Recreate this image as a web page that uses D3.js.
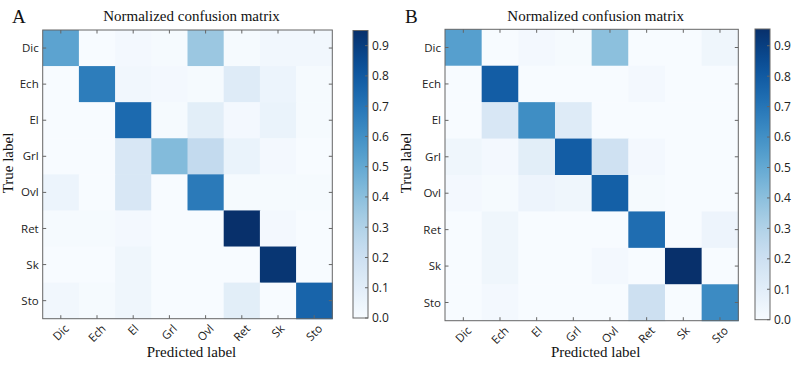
<!DOCTYPE html>
<html>
<head>
<meta charset="utf-8">
<script src="https://cdn.jsdelivr.net/npm/d3@7"></script>
<style>
  body { margin: 0; background: #fff; }
  svg { display: block; }
</style>
</head>
<body>
<div id="container"></div>
<script>
let w = 800;
let h = 366;

// class names (rows = true label, cols = predicted label)
let classes = ["Dic", "Ech", "El", "Grl", "Ovl", "Ret", "Sk", "Sto"];

// panel A normalized confusion matrix
let matrixA = [
  [0.52, 0.00, 0.02, 0.01, 0.36, 0.01, 0.03, 0.03],
  [0.00, 0.67, 0.03, 0.02, 0.01, 0.12, 0.05, 0.01],
  [0.00, 0.00, 0.74, 0.01, 0.10, 0.02, 0.06, 0.01],
  [0.00, 0.00, 0.15, 0.42, 0.24, 0.06, 0.02, 0.00],
  [0.05, 0.00, 0.15, 0.00, 0.68, 0.01, 0.01, 0.01],
  [0.01, 0.01, 0.02, 0.00, 0.00, 0.95, 0.02, 0.00],
  [0.00, 0.00, 0.04, 0.00, 0.00, 0.00, 0.93, 0.00],
  [0.03, 0.01, 0.04, 0.00, 0.00, 0.10, 0.00, 0.76]
];

// panel B normalized confusion matrix
let matrixB = [
  [0.54, 0.00, 0.02, 0.01, 0.40, 0.00, 0.00, 0.04],
  [0.00, 0.79, 0.00, 0.00, 0.00, 0.02, 0.00, 0.00],
  [0.00, 0.15, 0.61, 0.12, 0.00, 0.00, 0.00, 0.00],
  [0.04, 0.02, 0.10, 0.79, 0.19, 0.02, 0.00, 0.00],
  [0.02, 0.01, 0.05, 0.04, 0.78, 0.01, 0.00, 0.00],
  [0.00, 0.04, 0.00, 0.00, 0.00, 0.73, 0.00, 0.05],
  [0.00, 0.04, 0.00, 0.00, 0.02, 0.00, 0.955, 0.00],
  [0.00, 0.02, 0.00, 0.00, 0.00, 0.20, 0.00, 0.62]
];

let colorbarTicks = [0.0, 0.1, 0.2, 0.3, 0.4, 0.5, 0.6, 0.7, 0.8, 0.9];

let titleText = "Normalized confusion matrix";
let xLabelText = "Predicted label";
let yLabelText = "True label";

let serif = "'Liberation Serif', 'Times New Roman', serif";
let sans = "'Open Sans', 'Noto Sans', sans-serif";
let frameColor = "#666";

let viz = d3.select("#container").append("svg")
  .attr("width", w)
  .attr("height", h);

let defs = viz.append("defs");

function drawPanel(letter, matrix, box, cbar, ylabX, letterX) {
  let vmax = d3.max(matrix, function(r) { return d3.max(r); });
  let color = d3.scaleSequential(d3.interpolateBlues).domain([0, vmax]);

  let xScale = d3.scaleBand().domain(classes).range([box.left, box.right]);
  let yScale = d3.scaleBand().domain(classes).range([box.top, box.bottom]);

  let cells = [];
  matrix.forEach(function(row, i) {
    row.forEach(function(v, j) {
      cells.push({ t: classes[i], p: classes[j], v: v });
    });
  });

  let g = viz.append("g");

  g.selectAll(".cell").data(cells).enter().append("rect")
    .attr("class", "cell")
    .attr("x", function(d) { return xScale(d.p); })
    .attr("y", function(d) { return yScale(d.t); })
    .attr("width", xScale.bandwidth() + 0.5)
    .attr("height", yScale.bandwidth() + 0.5)
    .attr("fill", function(d) { return color(d.v); });

  // frame
  g.append("rect")
    .attr("x", box.left).attr("y", box.top)
    .attr("width", box.right - box.left).attr("height", box.bottom - box.top)
    .attr("fill", "none").attr("stroke", frameColor).attr("stroke-width", 1);

  // inward ticks on all four sides
  let half = xScale.bandwidth() / 2;
  let tl = 3.5;
  classes.forEach(function(c) {
    let x = xScale(c) + half;
    let y = yScale(c) + yScale.bandwidth() / 2;
    g.append("line").attr("x1", x).attr("x2", x).attr("y1", box.top).attr("y2", box.top + tl).attr("stroke", frameColor);
    g.append("line").attr("x1", x).attr("x2", x).attr("y1", box.bottom).attr("y2", box.bottom - tl).attr("stroke", frameColor);
    g.append("line").attr("y1", y).attr("y2", y).attr("x1", box.left).attr("x2", box.left + tl).attr("stroke", frameColor);
    g.append("line").attr("y1", y).attr("y2", y).attr("x1", box.right).attr("x2", box.right - tl).attr("stroke", frameColor);
  });

  // y tick labels
  g.selectAll(".ylab").data(classes).enter().append("text")
    .attr("class", "ylab")
    .attr("x", box.left - 4)
    .attr("y", function(d) { return yScale(d) + yScale.bandwidth() / 2; })
    .attr("dy", "0.35em")
    .attr("text-anchor", "end")
    .style("font-family", sans).style("font-size", "11.5px").attr("fill", "#222")
    .text(function(d) { return d; });

  // x tick labels, rotated 45 and centred under the tick
  g.selectAll(".xlab").data(classes).enter().append("text")
    .attr("class", "xlab")
    .attr("text-anchor", "middle")
    .attr("dy", "0.35em")
    .style("font-family", sans).style("font-size", "11.5px").attr("fill", "#222")
    .text(function(d) { return d; })
    .attr("transform", function(d) {
      let len = this.getComputedTextLength();
      let halfH = (len + 11) * Math.SQRT1_2 / 2;
      return "translate(" + (xScale(d) + half) + "," + (box.bottom + 4 + halfH) + ") rotate(-45)";
    });

  let cx = (box.left + box.right) / 2 + 4;

  g.append("text")
    .attr("x", cx).attr("y", 21)
    .attr("text-anchor", "middle")
    .style("font-family", serif).style("font-size", "15px").attr("fill", "#111")
    .text(titleText);

  g.append("text")
    .attr("x", cx).attr("y", 357)
    .attr("text-anchor", "middle")
    .style("font-family", serif).style("font-size", "15px").attr("fill", "#111")
    .text(xLabelText);

  g.append("text")
    .attr("transform", "translate(" + ylabX + "," + 163 + ") rotate(-90)")
    .attr("text-anchor", "middle")
    .style("font-family", serif).style("font-size", "15px").attr("fill", "#111")
    .text(yLabelText);

  g.append("text")
    .attr("x", letterX).attr("y", 23)
    .style("font-family", serif).style("font-size", "19px").attr("fill", "#111")
    .text(letter);

  // colorbar
  let gradId = "grad" + letter;
  let grad = defs.append("linearGradient").attr("id", gradId)
    .attr("x1", "0").attr("y1", "1").attr("x2", "0").attr("y2", "0");
  d3.range(0, 1.0001, 0.05).forEach(function(t) {
    grad.append("stop").attr("offset", t).attr("stop-color", color(t * vmax));
  });

  let cScale = d3.scaleLinear().domain([0, vmax]).range([cbar.bottom, cbar.top]);

  g.append("rect")
    .attr("x", cbar.left).attr("y", cbar.top)
    .attr("width", cbar.right - cbar.left).attr("height", cbar.bottom - cbar.top)
    .attr("fill", "url(#" + gradId + ")")
    .attr("stroke", frameColor).attr("stroke-width", 1);

  let cAxis = d3.axisRight(cScale).tickValues(colorbarTicks).tickFormat(d3.format(".1f")).tickSize(0).tickPadding(4);
  let cAxisGroup = g.append("g")
    .attr("transform", "translate(" + cbar.right + ",0)")
    .call(cAxis);
  cAxisGroup.select(".domain").remove();
  cAxisGroup.selectAll("text")
    .style("font-family", sans).style("font-size", "12px").attr("fill", "#222");

  g.selectAll(".cbtick" + letter).data(colorbarTicks).enter().append("line")
    .attr("x1", cbar.right - 3).attr("x2", cbar.right)
    .attr("y1", function(d) { return cScale(d); })
    .attr("y2", function(d) { return cScale(d); })
    .attr("stroke", frameColor);
}

drawPanel("A", matrixA,
  { left: 42.7, right: 332.3, top: 30, bottom: 318.7 },
  { left: 353, right: 368, top: 30.5, bottom: 318 },
  13, 12);

drawPanel("B", matrixB,
  { left: 445, right: 738.3, top: 29.3, bottom: 320.7 },
  { left: 755, right: 770, top: 29, bottom: 319.7 },
  411, 405);
</script>
</body>
</html>
